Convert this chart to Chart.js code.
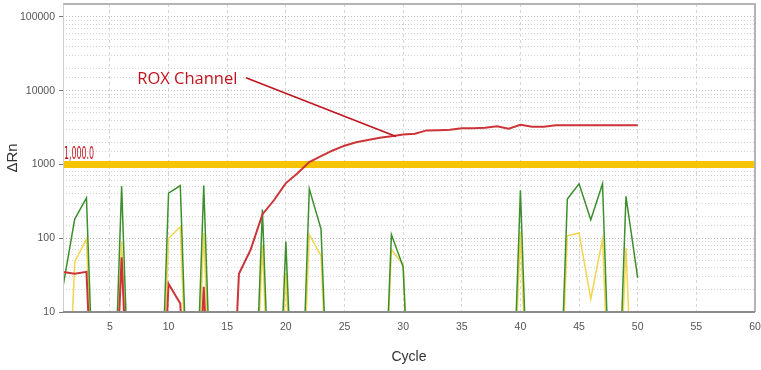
<!DOCTYPE html>
<html>
<head>
<meta charset="utf-8">
<script src="https://cdn.jsdelivr.net/npm/chart.js@4"></script>
<style>
  body { margin: 0; background: #fff; }
  #wrap { width: 761px; height: 370px; }
</style>
</head>
<body>
<div id="wrap"><canvas id="ampChart"></canvas></div>
<script>
// cycle numbers
const cycles = [1,2,3,4,5,6,7,8,9,10,11,12,13,14,15,16,17,18,19,20,21,22,23,24,25,
                26,27,28,29,30,31,32,33,34,35,36,37,38,39,40,41,42,43,44,45,46,47,48,49,50];

// ΔRn per cycle (values under 10 fall below the axis)
const roxRn = [35,33,35,0.01,0.01,55,0.01,0.01,0.01,24,13,0.01,22,0.01,0.01,33,70,210,330,560,
               760,1080,1300,1550,1800,2000,2150,2300,2420,2550,2620,2900,2920,2950,3100,3100,3150,3300,3050,3450,
               3250,3250,3400,3400,3400,3400,3400,3400,3400,3400];
const greenRn = [22,182,352,0.01,0.01,507,0.01,0.01,0.01,410,517,0.01,520,0.01,0.01,0.01,0.01,245,0.01,90,
                 0.01,467,133,0.01,0.01,0.01,0.01,0.01,112,41,0.01,0.01,0.01,0.01,0.01,0.01,0.01,0.01,0.01,447,
                 0.01,0.01,0.01,340,546,178,546,0.01,370,29];
const yellowRn = [0.01,48,97,0.01,0.01,90,0.01,0.01,0.01,100,142,0.01,118,0.01,0.01,0.01,0.01,80,0.01,34,
                  0.01,112,58,0.01,0.01,0.01,0.01,0.01,70,44,0.01,0.01,0.01,0.01,0.01,0.01,0.01,0.01,0.01,124,
                  0.01,0.01,0.01,108,118,15,97,0.01,74,0.01];

const threshold = 1000;
const thresholdLabel = '1,000.0';
const xRange = [1, 60];
const yRange = [10, 150000];
const yTickLabels = [10, 100, 1000, 10000, 100000];

// callout: text position and arrow (in cycle / ΔRn units)
const calloutText = 'ROX Channel';
const calloutAt = [11.6, 14500];
const arrowFrom = [16.6, 15000];
const arrowTo = [29.4, 2400];

const tickFont = '"Liberation Sans", Arial, sans-serif';

const toPoints = vals => cycles.map((c, i) => ({ x: c, y: vals[i] }));

const overlay = {
    id: 'overlay',
    afterDatasetsDraw(chart) {
        const { ctx, chartArea: a, scales: { x, y } } = chart;
        ctx.save();
        // frame
        ctx.strokeStyle = '#b4b4b4';
        ctx.lineWidth = 2;
        ctx.beginPath();
        ctx.moveTo(a.left, a.top); ctx.lineTo(a.right, a.top); ctx.lineTo(a.right, a.bottom);
        ctx.stroke();
        ctx.strokeStyle = '#cfcfcf';
        ctx.lineWidth = 1;
        ctx.beginPath();
        ctx.moveTo(a.left + 0.5, a.top); ctx.lineTo(a.left + 0.5, a.bottom);
        ctx.stroke();
        ctx.strokeStyle = '#8c8c8c';
        ctx.lineWidth = 2;
        ctx.beginPath();
        ctx.moveTo(a.left, a.bottom); ctx.lineTo(a.right, a.bottom);
        ctx.stroke();

        // threshold label, squeezed like the instrument software
        const ty = y.getPixelForValue(threshold);
        ctx.font = '18px "DejaVu Sans Condensed", Arial, sans-serif';
        ctx.fillStyle = '#c4141c';
        ctx.textBaseline = 'alphabetic';
        const w = ctx.measureText(thresholdLabel).width;
        ctx.translate(a.left + 1, ty - 5);
        ctx.scale(30 / w, 1);
        ctx.fillText(thresholdLabel, 0, 0);
        ctx.setTransform(1, 0, 0, 1, 0, 0);

        // callout
        ctx.fillStyle = '#c0141e';
        ctx.font = '16.5px "Open Sans", "Noto Sans", sans-serif';
        ctx.textAlign = 'center';
        ctx.textBaseline = 'middle';
        ctx.fillText(calloutText, x.getPixelForValue(calloutAt[0]), y.getPixelForValue(calloutAt[1]));
        ctx.strokeStyle = '#c0141e';
        ctx.lineWidth = 1.5;
        ctx.beginPath();
        ctx.moveTo(x.getPixelForValue(arrowFrom[0]), y.getPixelForValue(arrowFrom[1]));
        ctx.lineTo(x.getPixelForValue(arrowTo[0]), y.getPixelForValue(arrowTo[1]));
        ctx.stroke();
        ctx.restore();
    }
};

const isDecade = v => yTickLabels.includes(v);

new Chart(document.getElementById('ampChart'), {
    type: 'line',
    data: {
        datasets: [
            { label: 'ROX', data: toPoints(roxRn), borderColor: '#cc3438', borderWidth: 2 },
            { label: 'Green', data: toPoints(greenRn), borderColor: '#3c8f2c', borderWidth: 1.5 },
            { label: 'Yellow', data: toPoints(yellowRn), borderColor: '#f2d54c', borderWidth: 1.5 },
            { label: 'Threshold', data: [{ x: xRange[0], y: threshold }, { x: xRange[1], y: threshold }],
              borderColor: '#f6c500', borderWidth: 7 }
        ]
    },
    options: {
        animation: false,
        responsive: true,
        maintainAspectRatio: false,
        layout: { padding: { top: 4, right: 6, left: 0, bottom: 0 } },
        elements: { point: { radius: 0 }, line: { tension: 0 } },
        plugins: { legend: { display: false }, tooltip: { enabled: false } },
        scales: {
            x: {
                type: 'linear',
                min: xRange[0],
                max: xRange[1],
                afterBuildTicks: s => { s.ticks = s.ticks.filter(t => t.value % 5 === 0); },
                afterFit: s => { s.height = 58; s.paddingLeft = 0; s.paddingRight = 0; },
                ticks: { stepSize: 5, autoSkip: false, maxRotation: 0, padding: 9, color: '#555',
                         font: { size: 10.5, family: tickFont } },
                grid: { color: '#d6d6d6', drawTicks: false },
                border: { display: false, dash: [3, 3] },
                title: { display: true, text: 'Cycle', color: '#333', padding: { top: 9 },
                         font: { size: 14, family: tickFont } }
            },
            y: {
                type: 'logarithmic',
                min: yRange[0],
                max: yRange[1],
                afterFit: s => { s.width = 63; s.paddingTop = 0; s.paddingBottom = 0; },
                ticks: {
                    autoSkip: false, padding: 4, color: '#555',
                    font: { size: 10.5, family: tickFont },
                    callback: v => isDecade(v) ? String(v) : ''
                },
                grid: {
                    color: c => c.tick && isDecade(c.tick.value) ? '#bdbdbd' : '#d2d2d2',
                    tickLength: 4,
                    tickColor: c => c.tick && isDecade(c.tick.value) ? '#777' : 'rgba(0,0,0,0)'
                },
                border: { display: false, dash: [1, 2] },
                title: { display: true, text: 'ΔRn', color: '#333', padding: { bottom: 4 },
                         font: { size: 15, family: tickFont } }
            }
        }
    },
    plugins: [overlay]
});
</script>
</body>
</html>
